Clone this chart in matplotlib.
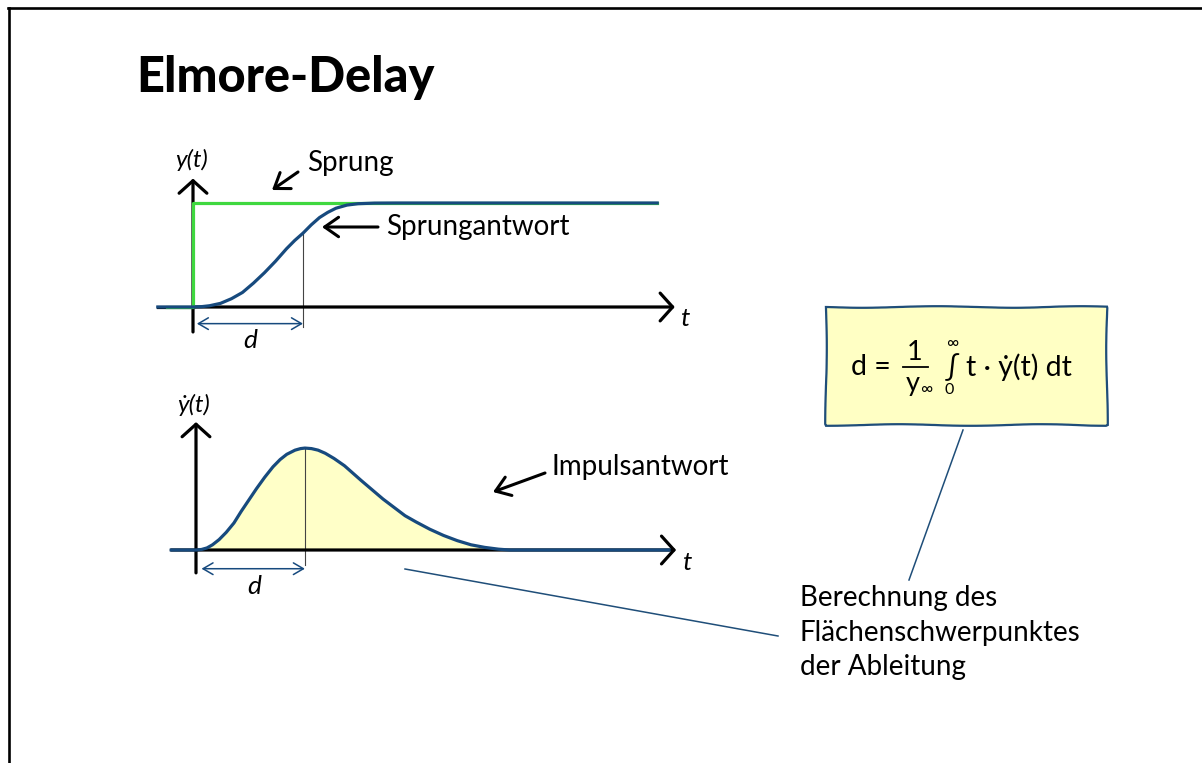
import matplotlib
matplotlib.use("Agg")
import matplotlib.pyplot as plt
from matplotlib.patches import Rectangle
import numpy as np

# step response y(t) (t in units, d = 2)
step_t = [-0.64, 0, 0.15, 0.3, 0.5, 0.7, 0.9, 1.1, 1.3, 1.5, 1.7, 1.85, 2.0, 2.15, 2.3, 2.45, 2.6, 2.8, 3.0, 3.3, 3.7, 8.44]
step_y = [0, 0, 0.003, 0.012, 0.035, 0.08, 0.14, 0.23, 0.33, 0.44, 0.56, 0.64, 0.71, 0.79, 0.86, 0.91, 0.95, 0.98, 0.993, 0.999, 1.0, 1.0]

# input step ("Sprung")
jump_t = [-0.48, 0, 0, 8.44]
jump_y = [0, 0, 1, 1]

# impulse response dy/dt
imp_t = [-0.45, 0, 0.1, 0.2, 0.3, 0.42, 0.55, 0.69, 0.82, 0.96, 1.1, 1.25, 1.4, 1.53, 1.65, 1.8, 1.9, 1.98,
         2.1, 2.22, 2.35, 2.51, 2.7, 2.85, 3.0, 3.2, 3.4, 3.6, 3.8, 4.0, 4.25, 4.5, 4.75, 5.0, 5.25, 5.5, 5.7, 8.6]
imp_y = [0, 0, 0.005, 0.02, 0.05, 0.10, 0.17, 0.26, 0.37, 0.48, 0.59, 0.70, 0.80, 0.87, 0.92, 0.96, 0.975, 0.98,
         0.975, 0.96, 0.93, 0.88, 0.81, 0.74, 0.67, 0.58, 0.49, 0.41, 0.33, 0.27, 0.2, 0.14, 0.09, 0.05, 0.025, 0.008, 0, 0]

d_top = 2.0
d_bot = 1.98

title = "Elmore-Delay"
note_lines = ["Berechnung des", "Flächenschwerpunktes", "der Ableitung"]

W, H = 1202, 763
BLUE = "#174a7e"
LBLUE = "#1f4e79"
GREEN = "#3fd83f"
FILL = "#ffffc8"
FS = 20

plt.rcParams["font.family"] = ["Lato", "DejaVu Sans"]

fig = plt.figure(figsize=(W / 100, H / 100), dpi=100)

# overlay in pixel coords for frame, title, notes
ax = fig.add_axes([0, 0, 1, 1])
ax.set_xlim(0, W)
ax.set_ylim(H, 0)
ax.axis("off")


def px_axes(l, t, r, b, x0, y0, sx=55.0, sy=104.0):
    a = fig.add_axes([l / W, 1 - b / H, (r - l) / W, (b - t) / H])
    a.set_xlim((l - x0) / sx, (r - x0) / sx)
    a.set_ylim((y0 - b) / sy, (y0 - t) / sy)
    a.axis("off")
    a.patch.set_alpha(0)
    return a


def axis_arrow(a, start, tip):
    a.annotate("", xy=tip, xytext=start,
               arrowprops=dict(arrowstyle="->,head_length=0.45,head_width=0.5", lw=2.3,
                               color="black", shrinkA=0, shrinkB=0, mutation_scale=20),
               annotation_clip=False)


def d_arrow(a, x1, x2, yv):
    a.annotate("", xy=(x2, yv), xytext=(x1, yv),
               arrowprops=dict(arrowstyle="<->,head_length=0.6,head_width=0.35", lw=1.1,
                               color=BLUE, shrinkA=0, shrinkB=0, mutation_scale=12),
               annotation_clip=False)


def pointer(x1, y1, x2, y2):
    ax.annotate("", xy=(x2, y2), xytext=(x1, y1),
                arrowprops=dict(arrowstyle="->,head_length=0.5,head_width=0.35", lw=2.2,
                                color="black", shrinkA=0, shrinkB=0, mutation_scale=20))


# frame
ax.plot([8.5, 8.5], [H, 8], color="black", lw=1.9, solid_capstyle="projecting")
ax.plot([8, W], [8, 8], color="black", lw=1.9, solid_capstyle="projecting")

ax.text(136, 92, title, fontsize=35, fontweight="black", va="baseline", ha="left")

# ---- top: step response
a1 = px_axes(140, 140, 720, 360, 193, 307)
axis_arrow(a1, (0, -0.24), (0, 1.235))
axis_arrow(a1, (0, 0), (8.76, 0))
a1.plot([-0.64, 0], [0, 0], color="black", lw=2.3)
a1.plot(jump_t, jump_y, color=GREEN, lw=2.3, zorder=3)
a1.plot(step_t, step_y, color=BLUE, lw=2.3, zorder=4, solid_joinstyle="round")
a1.plot([d_top, d_top], [-0.19, np.interp(d_top, step_t, step_y)], color="#444444", lw=0.8, zorder=2)
d_arrow(a1, 0.07, d_top, -0.16)

ax.text(192, 160, "y(t)", fontsize=17.5, style="italic", ha="center", va="center")
ax.text(680, 318, "t", fontsize=19, style="italic", ha="left", va="center")
ax.text(250, 341, "d", fontsize=19, style="italic", ha="center", va="center")
ax.text(307, 163, "Sprung", fontsize=FS, ha="left", va="center")
pointer(298, 172, 272, 190)
ax.text(386, 227, "Sprungantwort", fontsize=FS, ha="left", va="center")
pointer(378, 227, 322, 227)

# ---- bottom: impulse response
a2 = px_axes(140, 380, 720, 600, 196, 550)
axis_arrow(a2, (0, -0.22), (0, 1.23))
axis_arrow(a2, (-0.45, 0), (8.73, 0))
ti = np.array(imp_t)
yi = np.array(imp_y)
a2.fill_between(ti, yi, 0, where=ti >= 0, color=FILL, lw=0, zorder=1)
a2.plot(imp_t, imp_y, color=BLUE, lw=2.3, zorder=4, solid_joinstyle="round")
a2.plot([d_bot, d_bot], [-0.14, np.interp(d_bot, imp_t, imp_y)], color="#444444", lw=0.8, zorder=2)
d_arrow(a2, 0.1, d_bot, -0.18)

ax.text(194, 405, "\u1e8f(t)", fontsize=17.5, style="italic", ha="center", va="center")
ax.text(682, 562, "t", fontsize=19, style="italic", ha="left", va="center")
ax.text(254, 587, "d", fontsize=19, style="italic", ha="center", va="center")
ax.text(552, 467, "Impulsantwort", fontsize=FS, ha="left", va="center")
pointer(545, 473, 493, 492)

# ---- formula box
box = Rectangle((826, 307), 281, 118, facecolor="#ffffc4", edgecolor=LBLUE, lw=1.6, zorder=2)
box.set_sketch_params(0.8, 160, 2)
ax.add_patch(box)
fs = 20.5
ax.text(851, 367, "d =", fontsize=fs, ha="left", va="center", zorder=3)
ax.text(915, 353, "1", fontsize=fs - 1, ha="center", va="center", zorder=3)
ax.plot([903, 928], [367, 367], color="black", lw=1.3, zorder=3)
ax.text(913, 383, "y", fontsize=fs - 1, ha="center", va="center", zorder=3)
ax.text(926, 389, "\u221e", fontsize=12, ha="center", va="center", zorder=3)
ax.text(952, 367, "\u222b", fontsize=fs, ha="center", va="center", zorder=3)
ax.text(952, 343, "\u221e", fontsize=12, ha="center", va="center", zorder=3)
ax.text(949, 390, "0", fontsize=11.5, ha="center", va="center", zorder=3)
ax.text(966, 367, "t \u00b7 \u1e8f(t) dt", fontsize=fs, ha="left", va="center", zorder=3)

# callout lines
ax.plot([405, 778], [569, 636], color=LBLUE, lw=1.1)
ax.plot([963, 909], [430, 580], color=LBLUE, lw=1.1)

for i, line in enumerate(note_lines):
    ax.text(800, 598 + i * 34.5, line, fontsize=FS, ha="left", va="center")

fig.savefig("out.png", dpi=100)
